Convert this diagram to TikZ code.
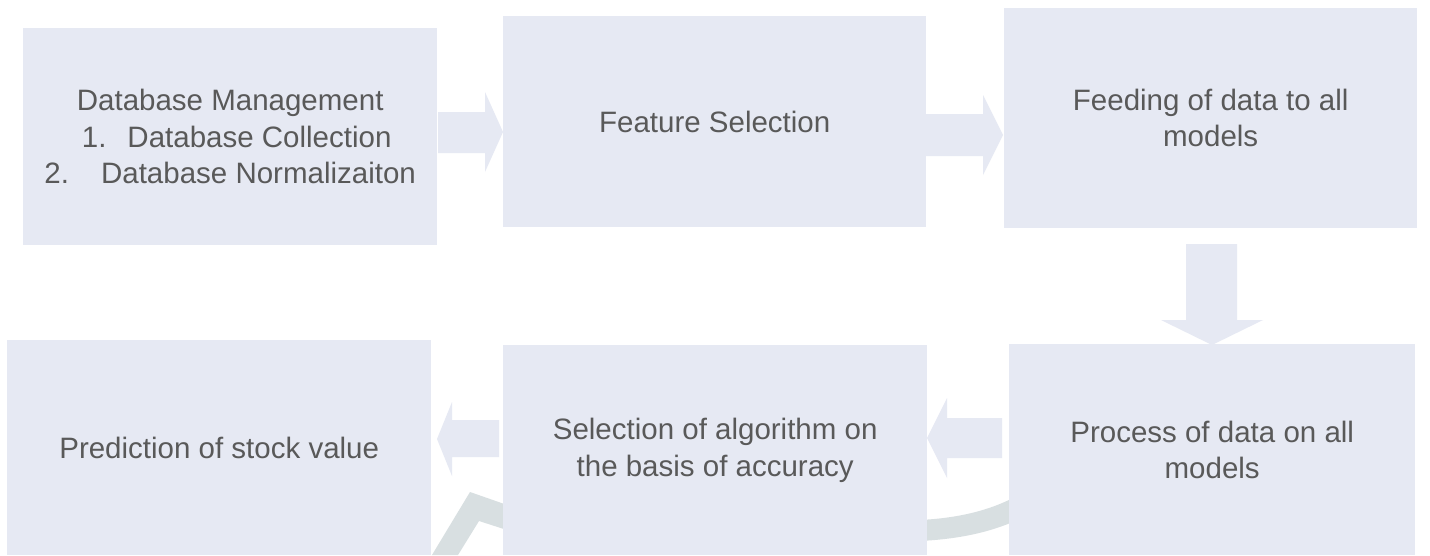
\documentclass[tikz,border=0pt]{standalone}
\usepackage{fontspec}
\setmainfont{Liberation Sans}
\definecolor{boxfill}{RGB}{230,233,243}
\definecolor{txt}{RGB}{89,89,89}
\definecolor{wmark}{RGB}{216,223,225}
\begin{document}
\begin{tikzpicture}[x=1pt,y=-1pt,
  box/.style={fill=boxfill, draw=none, anchor=north west, inner sep=0pt,
    align=center, text=txt, font=\fontsize{29.5}{36.5}\selectfont},
  blockarrow/.style={fill=boxfill, draw=none}]
\useasboundingbox[fill=white] (0,0) rectangle (1430,555);
% faint background watermark
\fill[wmark] (432,555) -- (470,492) -- (510,506) -- (510,531) -- (479,521) -- (458,555) -- cycle;
\fill[wmark] (920,520) .. controls (960,518) and (990,510) .. (1015,497) -- (1015,521) .. controls (990,532) and (960,539) .. (920,541) -- cycle;
% boxes
\node[box, minimum width=414pt, minimum height=217pt] (b1) at (23,28)
  {Database Management\\\hspace*{13pt}1.\hspace{21pt}Database Collection\\2.\hspace{32pt}Database Normalizaiton};
\node[box, minimum width=423pt, minimum height=211pt] (b2) at (503,16) {Feature Selection};
\node[box, minimum width=413pt, minimum height=220pt] (b3) at (1004,8) {Feeding of data to all\\models};
\node[box, minimum width=406pt, minimum height=211pt] (b6) at (1009,344) {Process of data on all\\models};
\node[box, minimum width=424pt, minimum height=210pt] (b5) at (503,345) {Selection of algorithm on\\the basis of accuracy};
\node[box, minimum width=424pt, minimum height=215pt] (b4) at (7,340) {Prediction of stock value};
% block arrows
\fill[blockarrow] (438,112) -- (485,112) -- (485,92) -- (503,132) -- (485,172) -- (485,153) -- (438,153) -- cycle;
\fill[blockarrow] (926,114) -- (983,114) -- (983,95) -- (1003,135) -- (983,175) -- (983,156) -- (926,156) -- cycle;
\fill[blockarrow] (1186,244) -- (1237,244) -- (1237,320) -- (1263,320) -- (1212,345) -- (1161,320) -- (1186,320) -- cycle;
\fill[blockarrow] (1002,418) -- (947,418) -- (947,398) -- (927,438) -- (947,478) -- (947,458) -- (1002,458) -- cycle;
\fill[blockarrow] (499,420) -- (452,420) -- (452,402) -- (437,439) -- (452,476) -- (452,457) -- (499,457) -- cycle;
\end{tikzpicture}
\end{document}
